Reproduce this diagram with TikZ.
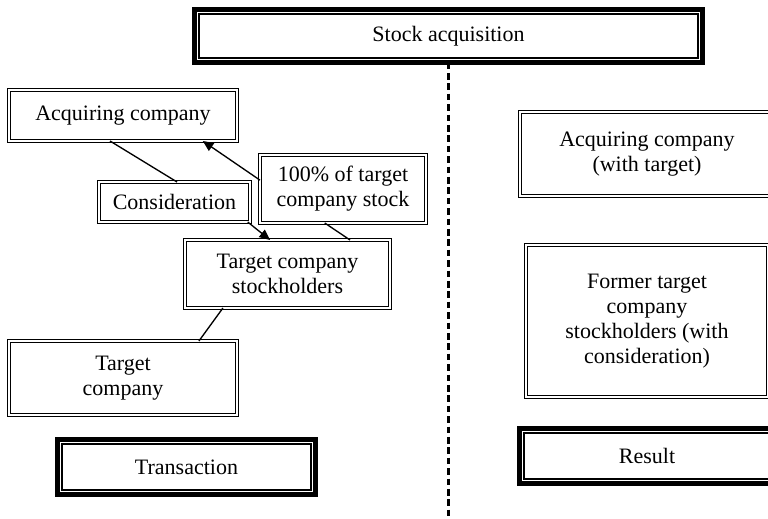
\documentclass[tikz,border=0pt]{standalone}
\usepackage{fontspec}
\setmainfont{Liberation Serif}
\usetikzlibrary{calc,arrows.meta}
\begin{document}
\begin{tikzpicture}[x=0.75pt,y=-0.75pt,
  every node/.style={font=\fontsize{16.5}{18.75}\selectfont, align=center, inner sep=0pt, outer sep=0pt},
  dbox/.style={draw, double, line width=1pt, double distance=1.1pt, rectangle},
  fbox/.style={draw, line width=3.75pt, rectangle},
  conn/.style={draw, line width=1pt},
  arr/.style={conn, -{Triangle[length=8pt,width=7pt]}},
  divider/.style={draw, line width=1.9pt, dash pattern=on 5pt off 2.8pt}
]
\useasboundingbox (0,0) rectangle (768,518);
\clip (0,0) rectangle (768,518);

% framed headings
\node[fbox, minimum width=0.75*508pt, minimum height=0.75*53pt] (sa) at (448.5,36) {Stock acquisition};
\node[fbox, minimum width=0.75*258pt, minimum height=0.75*55pt] (tr) at (186.5,467) {Transaction};
\node[fbox, minimum width=0.75*255pt, minimum height=0.75*55pt] (re) at (647,456) {Result};
\foreach \n in {sa,tr,re}{
  \draw[line width=1pt] ([shift={(3.4pt,-3.4pt)}]\n.north west) rectangle ([shift={(-3.4pt,3.4pt)}]\n.south east);
}

% double boxes
\node[dbox, minimum width=0.75*228pt, minimum height=0.75*51pt] (acq) at (123,115.5) {Acquiring company};
\node[dbox, minimum width=0.75*151pt, minimum height=0.75*40pt] (cons) at (174.5,202) {Consideration};
\node[dbox, minimum width=0.75*166pt, minimum height=0.75*68pt] (stk) at (343,189) {100\% of target\\company stock};
\node[dbox, minimum width=0.75*205pt, minimum height=0.75*68pt] (tcs) at (287.5,274) {Target company\\stockholders};
\node[dbox, minimum width=0.75*228pt, minimum height=0.75*74pt] (tc) at (123,378) {Target\\company};
\node[dbox, minimum width=0.75*254pt, minimum height=0.75*84pt] (acqt) at (647,154) {Acquiring company\\(with target)};
\node[dbox, minimum width=0.75*242pt, minimum height=0.75*152pt] (fmr) at (647,321) {Former target\\company\\stockholders (with\\consideration)};

% divider
\coordinate (dend) at (449,520);
\draw[divider] (sa.south) -- (sa.south |- dend);

% connectors
\draw[conn] ($(acq.south west)!0.443!(acq.south east)$) -- ($(cons.north west)!0.517!(cons.north east)$);
\draw[arr] ($(stk.north west)!0.37!(stk.south west)$) -- ($(acq.south west)!0.85!(acq.south east)$);
\draw[arr] ($(cons.south west)!0.985!(cons.south east)$) -- ($(tcs.north west)!0.415!(tcs.north east)$);
\draw[conn] ($(stk.south west)!0.39!(stk.south east)$) -- ($(tcs.north west)!0.805!(tcs.north east)$);
\draw[conn] ($(tcs.south west)!0.185!(tcs.south east)$) -- ($(tc.north west)!0.833!(tc.north east)$);
\end{tikzpicture}
\end{document}
